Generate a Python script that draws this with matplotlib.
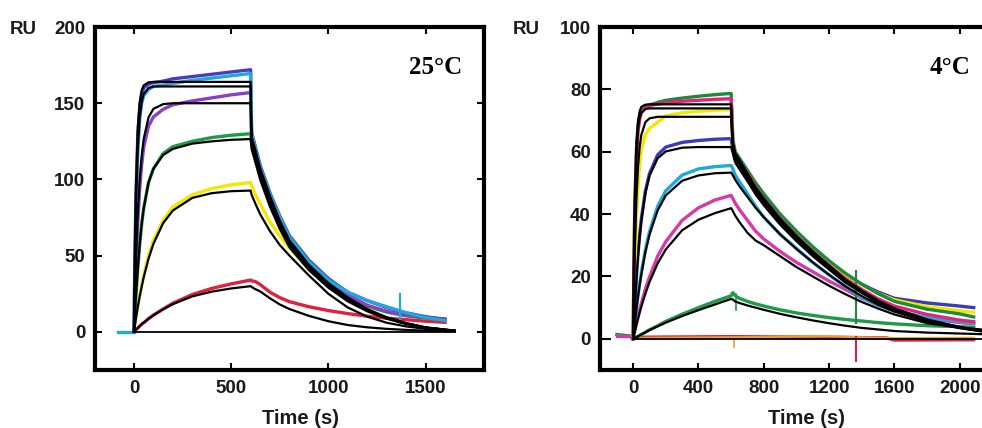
import matplotlib
matplotlib.use("Agg")
import matplotlib.pyplot as plt

# ---------------- LEFT PANEL (25 °C) ----------------
L_TA = [0, 5, 10, 20, 30, 40, 50, 75, 100, 150, 200, 300, 400, 500, 600]
L_TD = [600, 605, 625, 650, 700, 750, 800, 900, 1000, 1100, 1200, 1300, 1400, 1500, 1600]
L_TDF = [600, 605, 625, 650, 700, 750, 800, 900, 1000, 1100, 1200, 1300, 1400, 1500, 1650]

# measured data (association, dissociation)
L_bluev_a = [0, 50, 88, 130, 148, 156, 160, 162.5, 163.5, 164.5, 166, 167.5, 169, 170.5, 172]
L_bluev_d = [172, 131, 121, 109, 91, 76, 63, 47, 35, 26, 20.5, 16, 12.5, 10, 8]
L_cyan_a = [0, 40, 75, 118, 140, 150, 155, 159, 161, 162, 163, 165, 166.5, 168, 169.5]
L_cyan_d = [169.5, 130, 120, 108, 90, 75, 62, 46, 34, 26, 20.5, 16.5, 12.5, 9.5, 7.5]
L_viol_a = [0, 22, 42, 73, 95, 110, 121, 135, 141, 146, 149, 151.5, 153.5, 155.5, 157]
L_viol_d = [157, 128, 119, 107, 89, 74, 61, 45, 33, 24, 17.5, 13.5, 11, 9.5, 8.5]
L_green_a = [0, 12, 23, 42, 58, 71, 81, 98, 107, 117, 121.5, 125, 127.5, 129, 130]
L_green_d = [130, 124, 114, 103, 85, 70, 58, 43, 32, 23.5, 17, 13, 10.5, 9, 8]
L_yell_a = [0, 4.5, 9, 17, 24.5, 31, 37, 50, 60, 73, 82, 90, 94, 96.5, 98]
L_yell_d = [98, 96, 90, 84, 72, 63, 55, 41, 30, 22, 16.5, 13, 11, 9.5, 8.5]
L_red_a = [0, 0.7, 1.3, 2.6, 3.9, 5, 6, 8.7, 11, 15, 18.8, 24.5, 28.5, 31.5, 34]
L_red_d = [34, 33.5, 33, 31, 26, 22.5, 19.8, 16.5, 14, 12, 10.3, 9, 8, 7, 6.3]
L_pre_t = [-80, 0]
L_pre_y = [0, 0]
L_spike_t = [1370, 1370]
L_spike_y = [6, 25]

# fitted curves (black)
L_f1_a = [0, 57, 94, 134, 151, 158.5, 161.7, 163.7, 164, 164, 164, 164, 164, 164, 164]
L_f1_d = [164, 128, 119, 107, 89, 73, 60, 44, 32, 22.5, 15, 9.6, 5.8, 3, 0.8]
L_f2_a = [0, 47.5, 81, 121, 141, 151, 156, 160, 161, 161, 161, 161, 161, 161, 161]
L_f2_d = [161, 126, 117.5, 105.5, 87.5, 72, 59, 43, 31, 22, 14.5, 9.3, 5.6, 2.9, 0.8]
L_f3_a = [0, 25, 46.5, 78.5, 100.5, 115.5, 126.5, 140.7, 146.3, 149.4, 150, 150, 150, 150, 150]
L_f3_d = [150, 124, 115, 103, 85.5, 70, 57.5, 42, 30, 21, 14, 9, 5.4, 2.8, 0.8]
L_f4_a = [0, 12, 23, 42, 58, 71, 81, 98, 107, 116, 120, 123.5, 125, 126, 126.5]
L_f4_d = [126.5, 120, 111, 99.5, 82, 67.5, 55.5, 40.5, 29, 20, 13.5, 8.6, 5.2, 2.7, 0.7]
L_f5_a = [0, 4.4, 8.6, 16.4, 23.5, 29.8, 35.7, 48, 57.7, 71.3, 79.6, 87.9, 91, 92.3, 92.7]
L_f5_d = [92.7, 90, 84, 77, 66, 57, 50, 37, 25, 16, 10, 6, 3.6, 2, 0.6]
L_f6_a = [0, 0.66, 1.3, 2.6, 3.9, 5.2, 6, 8.6, 10.9, 14.8, 18.2, 23.3, 26.4, 28.5, 30]
L_f6_d = [30, 29.5, 28, 26.5, 22, 18, 15, 10.5, 7, 4.5, 3, 2, 1.3, 0.8, 0.4]
L_base_t = [0, 1650]
L_base_y = [0, 0]

# ---------------- RIGHT PANEL (4 °C) ----------------
R_TA = [0, 5, 10, 20, 30, 40, 50, 75, 100, 150, 200, 300, 400, 500, 600]
R_TD = [600, 610, 625, 650, 700, 750, 800, 900, 1000, 1100, 1200, 1300, 1400, 1500, 1600, 1800, 2000, 2085]
R_TDF = [600, 610, 625, 650, 700, 750, 800, 900, 1000, 1100, 1200, 1300, 1400, 1500, 1600, 1800, 2000, 2200]

R_dgreen_a = [0, 26, 43, 61, 68.5, 71.5, 73, 74.5, 75, 75.8, 76.5, 77.2, 77.8, 78.3, 78.7]
R_dgreen_d = [78.7, 64, 60, 58, 54, 50, 46.5, 40, 34.5, 29.5, 25, 21, 17.5, 14.5, 12, 9.5, 8, 7]
R_mred_a = [0, 24, 40, 58, 66.5, 70.5, 72.5, 74, 74.8, 75.3, 75.7, 76.2, 76.5, 76.8, 77]
R_mred_d = [77, 63, 59, 57, 53, 48.5, 45, 38.5, 33, 28, 23.5, 19.3, 15.8, 12.8, 10.5, 7.8, 6, 5.5]
R_yell_a = [0, 12, 22, 38, 49, 56, 60.5, 65.5, 67.5, 69.5, 71.5, 72.5, 73, 73.3, 73.5]
R_yell_d = [73.5, 62, 58.5, 56.5, 52.5, 48.5, 45, 39, 33.5, 28.5, 24.5, 20.5, 17.3, 14.5, 12.5, 10.3, 9, 8.5]
R_blue_a = [0, 6, 11, 20, 27.5, 33.5, 38.5, 47.5, 53, 59, 61.5, 63, 63.6, 64, 64.2]
R_blue_d = [64.2, 61, 57.5, 55.5, 51.5, 47.5, 44, 38, 33, 28.5, 24.5, 20.5, 17.5, 15, 13, 11.5, 10.5, 10]
R_cyan_a = [0, 2.7, 5.1, 9.7, 14, 17.8, 21.3, 28.6, 34.4, 42.5, 47.5, 52.5, 54.5, 55.2, 55.6]
R_cyan_d = [55.6, 54.5, 52.5, 50.5, 46.5, 42.5, 39, 33.5, 29, 24.5, 20.5, 16.8, 13.3, 10.8, 9, 6.8, 5.5, 5]
R_pink_a = [0, 1.3, 2.5, 4.9, 7.1, 9.3, 11.3, 16, 19.8, 26.5, 31.2, 38, 42, 44.5, 46]
R_pink_d = [46, 45, 43.5, 41.5, 38, 34.5, 32, 28, 24.5, 21.5, 18.5, 15.8, 13, 10.8, 9, 6.5, 5.2, 4.8]
R_lgreen_a = [0, 0.1, 0.25, 0.5, 0.8, 1.1, 1.4, 2.1, 2.9, 4.2, 5.6, 7.9, 10, 12, 13.8]
R_lgreen_d = [13.8, 14.8, 13.8, 13, 12, 11.2, 10.5, 9.3, 8.3, 7.5, 6.8, 6.2, 5.7, 5.2, 4.8, 4.2, 3.9, 3.7]
R_red_t = [-10, 600, 1200, 1550, 1600, 2085]
R_red_y = [0.5, 0.7, 0.5, 0.3, -0.4, -0.3]
R_orng_t = [0, 600, 1200, 1600, 2085]
R_orng_y = [0.3, 0.5, 0.8, 0.2, 0.3]
R_pre_t = [-100, 0]
R_pre_pink = [1.0, 1.0]
R_pre_green = [1.4, 0.8]
R_spk_green_t, R_spk_green_y = [1366, 1366], [5, 21.7]
R_spk_red_t, R_spk_red_y = [1366, 1366], [0.5, -7]
R_spk_orng_t, R_spk_orng_y = [620, 620], [0.3, -2.5]
R_spk_lg_t, R_spk_lg_y = [628, 628], [9.4, 14.5]

R_f1_a = [0, 27, 44.5, 62.8, 70, 73, 74.4, 75.1, 75.2, 75.2, 75.2, 75.2, 75.2, 75.2, 75.2]
R_f1_d = [75.2, 63, 59.5, 57.5, 53, 48.5, 45, 38.5, 33, 28, 23.5, 19, 15.5, 12.3, 9.8, 6.2, 3.8, 2.1]
R_f2_a = [0, 24.4, 40.7, 59, 67.2, 70.9, 72.5, 73.7, 73.9, 73.9, 73.9, 73.9, 73.9, 73.9, 73.9]
R_f2_d = [73.9, 62, 58.7, 56.8, 52.3, 48, 44.3, 38, 32.5, 27.5, 23, 18.7, 15.2, 12, 9.6, 6, 3.7, 2.0]
R_f3_a = [0, 15.7, 28, 45, 55.3, 61.6, 65.4, 69.5, 70.7, 71.2, 71.2, 71.2, 71.2, 71.2, 71.2]
R_f3_d = [71.2, 61, 57.8, 56, 51.6, 47.3, 43.7, 37.4, 32, 27, 22.6, 18.4, 15, 11.8, 9.4, 5.9, 3.6, 2.0]
R_f4_a = [0, 5.6, 10.6, 19.4, 26.7, 32.7, 37.7, 46.7, 52.3, 57.9, 60.1, 61.3, 61.5, 61.5, 61.5]
R_f4_d = [61.5, 59.5, 56.5, 54.5, 50.5, 46.3, 42.8, 36.6, 31.3, 26.5, 22.2, 18, 14.7, 11.6, 9.2, 5.8, 3.5, 1.9]
R_f5_a = [0, 2.6, 5, 9.5, 13.6, 17.3, 20.7, 27.8, 33.4, 41.2, 46, 50.7, 52.4, 53.1, 53.3]
R_f5_d = [53.3, 52.5, 51, 49, 45.5, 42, 39, 33.5, 28.8, 24.5, 20.5, 16.8, 13.7, 10.9, 8.7, 5.5, 3.4, 1.9]
R_f6_a = [0, 1.2, 2.3, 4.5, 6.5, 8.5, 10.3, 14.5, 18.2, 24.2, 28.7, 34.8, 38.2, 40.3, 41.9]
R_f6_d = [41.9, 41, 39.5, 37.5, 34, 31.5, 30, 26.5, 23, 20, 17, 14.3, 11.8, 9.7, 7.8, 5, 3.6, 2.7]
R_f7_a = [0, 0.1, 0.25, 0.5, 0.8, 1.1, 1.4, 2.1, 2.8, 4.0, 5.2, 7.3, 9.2, 11, 12.8]
R_f7_d = [12.8, 12.6, 12, 11.5, 10.7, 10, 9.3, 8, 6.9, 5.9, 5, 4.2, 3.5, 3, 2.5, 2, 1.7, 1.4]
R_base_t = [0, 2200]
R_base_y = [0, 0]

L_XTICKS = [0, 500, 1000, 1500]
L_YTICKS = [0, 50, 100, 150, 200]
R_XTICKS = [0, 400, 800, 1200, 1600, 2000]
R_YTICKS = [0, 20, 40, 60, 80, 100]

# colours
C_BLUEV = "#4a3cc0"
C_CYAN = "#1fa8dc"
C_VIOL = "#8b3fc4"
C_GREEN = "#1e9a48"
C_YELL = "#f4e800"
C_RED = "#e0203c"
C_DGREEN = "#1b8a3a"
C_MRED = "#e8207a"
C_BLUE = "#3a3cb8"
C_PINK = "#d43aa8"
C_ORNG = "#f0a020"
C_TXT = "#1a1a1a"

TICK_FONT = dict(family="Liberation Sans", size=13.5, weight="bold")

fig = plt.figure(figsize=(9.82, 4.28), dpi=100)
fig.patch.set_facecolor("white")
axL = fig.add_axes([0.0968, 0.1355, 0.396, 0.8014])
# right frame of this panel lies just beyond the picture's right edge
axR = fig.add_axes([0.6115, 0.1355, 0.4050, 0.8014])

CW = 2.4   # coloured line width
FW = 1.6   # fit line width


def curve(ax, ta, a, td, d, color, lw, z):
    ax.plot(ta + td, a + d, color=color, lw=lw, zorder=z, solid_joinstyle="round")


# left panel data
curve(axL, L_TA, L_red_a, L_TD, L_red_d, C_RED, CW, 2)
curve(axL, L_TA, L_yell_a, L_TD, L_yell_d, C_YELL, CW, 2)
curve(axL, L_TA, L_green_a, L_TD, L_green_d, C_GREEN, CW, 2)
curve(axL, L_TA, L_viol_a, L_TD, L_viol_d, C_VIOL, CW, 2)
curve(axL, L_TA, L_bluev_a, L_TD, L_bluev_d, C_BLUEV, CW, 2)
curve(axL, L_TA, L_cyan_a, L_TD, L_cyan_d, C_CYAN, CW, 2)
axL.plot(L_pre_t, L_pre_y, color=C_CYAN, lw=CW, zorder=2)
axL.plot(L_spike_t, L_spike_y, color=C_CYAN, lw=1.6, zorder=2)
for a, d in [(L_f1_a, L_f1_d), (L_f2_a, L_f2_d), (L_f3_a, L_f3_d),
             (L_f4_a, L_f4_d), (L_f5_a, L_f5_d), (L_f6_a, L_f6_d)]:
    curve(axL, L_TA, a, L_TDF, d, "black", FW, 3)
axL.plot(L_base_t, L_base_y, color="black", lw=1.3, zorder=3)

# right panel data
axR.plot(R_red_t, R_red_y, color=C_RED, lw=CW, zorder=2)
axR.plot(R_orng_t, R_orng_y, color=C_ORNG, lw=1.6, zorder=2)
axR.plot(R_pre_t, R_pre_green, color=C_GREEN, lw=CW, zorder=2)
axR.plot(R_pre_t, R_pre_pink, color=C_PINK, lw=CW, zorder=2)
curve(axR, R_TA, R_lgreen_a, R_TD, R_lgreen_d, C_GREEN, CW, 2)
curve(axR, R_TA, R_pink_a, R_TD, R_pink_d, C_PINK, CW, 2)
curve(axR, R_TA, R_cyan_a, R_TD, R_cyan_d, C_CYAN, CW, 2)
curve(axR, R_TA, R_blue_a, R_TD, R_blue_d, C_BLUE, CW, 2)
curve(axR, R_TA, R_yell_a, R_TD, R_yell_d, C_YELL, CW, 2)
curve(axR, R_TA, R_dgreen_a, R_TD, R_dgreen_d, C_DGREEN, CW, 2)
curve(axR, R_TA, R_mred_a, R_TD, R_mred_d, C_MRED, CW, 2)
axR.plot(R_spk_green_t, R_spk_green_y, color=C_DGREEN, lw=1.5, zorder=2)
axR.plot(R_spk_red_t, R_spk_red_y, color=C_RED, lw=1.5, zorder=2)
axR.plot(R_spk_orng_t, R_spk_orng_y, color=C_ORNG, lw=1.2, zorder=2)
axR.plot(R_spk_lg_t, R_spk_lg_y, color=C_GREEN, lw=1.2, zorder=2)
for a, d in [(R_f1_a, R_f1_d), (R_f2_a, R_f2_d), (R_f3_a, R_f3_d), (R_f4_a, R_f4_d),
             (R_f5_a, R_f5_d), (R_f6_a, R_f6_d), (R_f7_a, R_f7_d)]:
    curve(axR, R_TA, a, R_TDF, d, "black", FW, 3)
axR.plot(R_base_t, R_base_y, color="black", lw=1.3, zorder=3)

# axes styling
for ax, xl, yl, xt, yt in [(axL, (-200, 1800), (-25, 200), L_XTICKS, L_YTICKS),
                           (axR, (-200, 2235), (-10, 100), R_XTICKS, R_YTICKS)]:
    ax.set_xlim(*xl)
    ax.set_ylim(*yl)
    ax.set_xticks(xt)
    ax.set_yticks(yt)
    ax.set_xticklabels([str(v) for v in xt], fontdict=TICK_FONT)
    ax.set_yticklabels([str(v) for v in yt], fontdict=TICK_FONT)
    for s in ax.spines.values():
        s.set_linewidth(3.0)
        s.set_color("black")
    ax.tick_params(direction="in", length=5, width=1.5, top=True, right=True,
                   pad=7, colors="black", labelcolor=C_TXT)
    ax.set_facecolor("white")

axR.tick_params(axis="y", which="both", right=True, length=8)

axL.text(0.943, 0.863, "25°C", transform=axL.transAxes, ha="right", va="baseline",
         fontfamily="Liberation Serif", fontweight="bold", fontsize=18)
axR.text(370 / 397.7, 0.863, "4°C", transform=axR.transAxes, ha="right", va="baseline",
         fontfamily="Liberation Serif", fontweight="bold", fontsize=18)

for x in (10, 513):
    fig.text(x / 982, 1 - 29 / 428, "RU", ha="left", va="center",
             fontfamily="Liberation Sans", fontsize=13.5, fontweight="bold", color=C_TXT)
for x in (301, 806):
    fig.text(x / 982, 1 - 418 / 428, "Time (s)", ha="center", va="center",
             fontfamily="Liberation Sans", fontsize=14.5, fontweight="bold", color=C_TXT)

fig.savefig("out.png", dpi=100, facecolor="white")
